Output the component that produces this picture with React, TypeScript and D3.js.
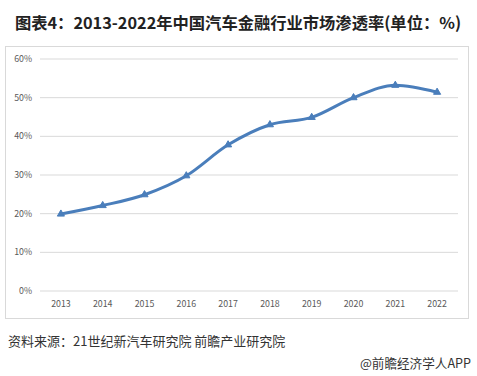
import React from "react";
import * as d3 from "d3";

const years = ["2013", "2014", "2015", "2016", "2017", "2018", "2019", "2020", "2021", "2022"];
const rates = [19.9, 22.1, 24.9, 29.8, 37.8, 43, 44.9, 50, 53.2, 51.4];
const yTicks = [0, 10, 20, 30, 40, 50, 60];

const title = "图表4：2013-2022年中国汽车金融行业市场渗透率(单位：%)";
const source = "资料来源：21世纪新汽车研究院 前瞻产业研究院";
const credit = "@前瞻经济学人APP";

export default function App() {
  const W = 477, H = 376;
  const x = d3.scaleBand().domain(years).range([40, 458]).padding(0);
  const y = d3.scaleLinear().domain([0, 60]).range([291, 59]);
  const line = d3
    .line<number>()
    .x((_, i) => (x(years[i]) as number) + x.bandwidth() / 2)
    .y((d) => y(d))
    .curve(d3.curveMonotoneX);
  const tri = d3.symbol().type(d3.symbolTriangle).size(22)() as string;
  const font = "'Microsoft YaHei','Noto Sans CJK SC','Noto Sans',sans-serif";
  return (
    <svg width={W} height={H} style={{ position: "absolute", left: 0, top: 0, background: "#fff" }} fontFamily={font}>
      <rect x={0} y={0} width={W} height={H} fill="#fff" />
      <text x={238} y={29} textAnchor="middle" fontSize={16.3} fontWeight="bold" fill="#222">
        {title}
      </text>
      <rect x={5.5} y={46.5} width={463} height={272} fill="none" stroke="#d9d9d9" />
      {yTicks.map((t) => (
        <g key={t}>
          {t > 0 && <line x1={40} x2={458} y1={y(t)} y2={y(t)} stroke="#d9d9d9" strokeWidth={1} />}
          <text x={32} y={y(t) + 3} textAnchor="end" fontSize={8.8} fill="#595959">
            {t}%
          </text>
        </g>
      ))}
      <line x1={40} x2={458} y1={y(0)} y2={y(0)} stroke="#d9d9d9" strokeWidth={1} />
      {years.map((yr) => (
        <text key={yr} x={(x(yr) as number) + x.bandwidth() / 2} y={307} textAnchor="middle" fontSize={8.8} fill="#595959">
          {yr}
        </text>
      ))}
      <path d={line(rates) as string} fill="none" stroke="#4a7ebb" strokeWidth={3} strokeLinecap="round" />
      {rates.map((v, i) => (
        <path
          key={i}
          d={tri}
          transform={`translate(${(x(years[i]) as number) + x.bandwidth() / 2},${y(v)})`}
          fill="#4a7ebb"
          stroke="#4a7ebb"
          strokeWidth={1}
        />
      ))}
      <text x={8} y={346} fontSize={13} fill="#333">
        {source}
      </text>
      <text x={471} y={368} textAnchor="end" fontSize={12.6} fill="#333">
        {credit}
      </text>
    </svg>
  );
}
